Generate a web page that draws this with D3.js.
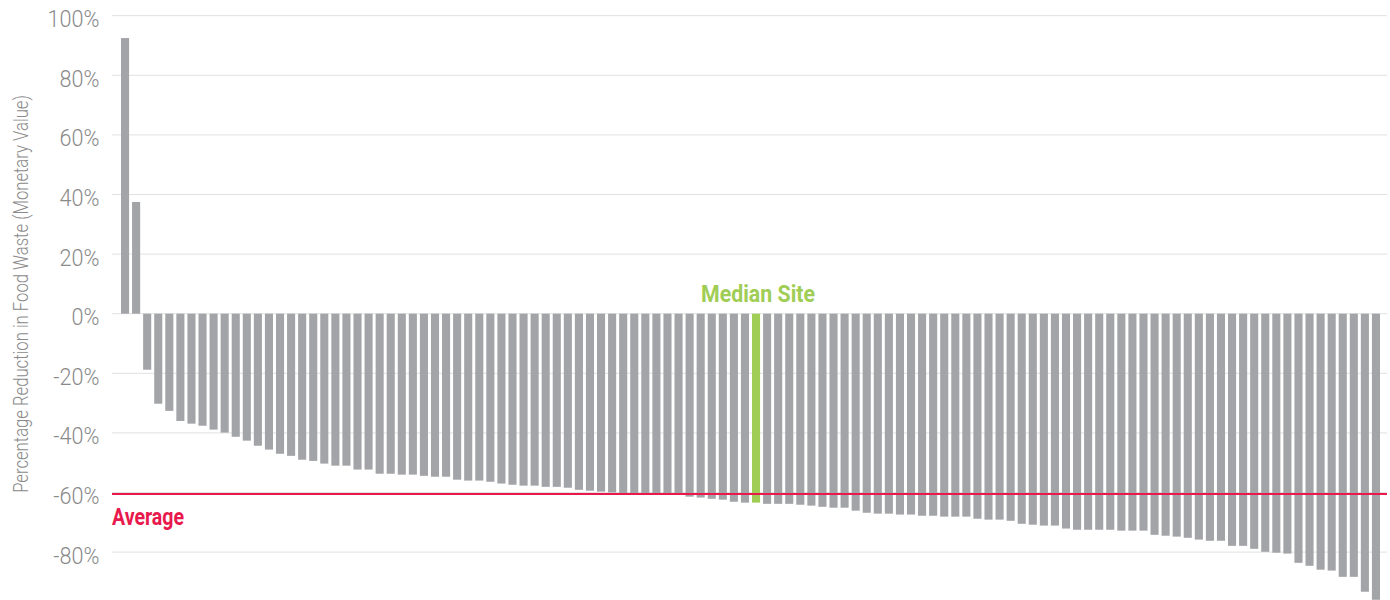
<!DOCTYPE html>
<html>
<head>
<meta charset="utf-8">
<script src="https://cdn.jsdelivr.net/npm/d3@7"></script>
<style>
  html, body { margin: 0; padding: 0; background: #fff; }
  svg { display: block; }
</style>
</head>
<body>
<svg id="chart" width="1390" height="600"></svg>
<script>
// ---- Data ----
const sites = d3.range(114).map(i => "Site " + (i + 1));
const reductions = [
  92.5, 37.5, -18.8, -30.2, -32.6, -36.0, -36.9, -37.6, -38.9, -39.9,
  -41.3, -42.6, -44.3, -45.6, -47.0, -47.7, -49.0, -49.4, -50.3, -51.0,
  -51.0, -52.3, -52.3, -53.7, -53.7, -54.0, -54.0, -54.4, -54.7, -54.7,
  -55.7, -56.0, -56.0, -56.4, -57.0, -57.4, -57.7, -57.7, -58.1, -58.1,
  -58.4, -59.1, -59.4, -59.7, -60.0, -60.2, -60.3, -60.4, -60.5, -60.6,
  -60.7, -61.4, -61.7, -62.1, -62.4, -63.1, -63.4, -63.4, -63.8, -63.8,
  -63.8, -64.1, -64.4, -64.8, -65.1, -65.1, -66.1, -66.8, -67.1, -67.1,
  -67.4, -67.4, -67.8, -67.8, -68.1, -68.1, -68.1, -68.8, -69.1, -69.1,
  -69.5, -70.5, -70.8, -71.1, -71.1, -72.1, -72.5, -72.5, -72.5, -72.5,
  -72.8, -72.8, -72.8, -74.2, -74.5, -74.8, -75.2, -75.8, -76.2, -76.2,
  -77.9, -77.9, -78.9, -79.9, -80.2, -80.5, -83.6, -84.6, -85.9, -86.2,
  -88.3, -88.3, -93.3, -96.0
];
const medianIndex = 57;
const averageValue = -60.5;
const tickValues = [100, 80, 60, 40, 20, 0, -20, -40, -60, -80];
const tickLabels = ["100%", "80%", "60%", "40%", "20%", "0%", "-20%", "-40%", "-60%", "-80%"];
const yTitle = "Percentage Reduction in Food Waste (Monetary Value)";
const medianLabel = "Median Site";
const averageLabel = "Average";

// ---- Styles ----
const barColor = "#a3a4a8";
const medianColor = "#9fcd55";
const avgColor = "#e8194c";
const gridColor = "#e1e1e1";
const tickColor = "#8a8a8a";

// ---- Scales ----
const svg = d3.select("#chart");
const plotLeft = 112, plotRight = 1387;

const x = d3.scaleBand()
  .domain(sites)
  .range([121, 1380])
  .paddingInner(0.27)
  .paddingOuter(0);

const y = d3.scaleLinear()
  .domain([-100, 100])
  .range([611.7, 15.7]);

// gridlines
svg.append("g")
  .selectAll("line")
  .data(tickValues)
  .join("line")
  .attr("x1", plotLeft)
  .attr("x2", plotRight)
  .attr("y1", d => y(d))
  .attr("y2", d => y(d))
  .attr("stroke", gridColor)
  .attr("stroke-width", 1);

// tick labels
svg.append("g")
  .selectAll("text")
  .data(tickValues)
  .join("text")
  .attr("transform", d => `translate(99.5,${y(d) + 11.5}) scale(0.92,1)`)
  .attr("text-anchor", "end")
  .attr("font-family", "Roboto, 'Noto Sans', sans-serif")
  .attr("font-weight", 300)
  .attr("font-size", 23.5)
  .attr("fill", tickColor)
  .text((d, i) => tickLabels[i]);

// y title (condensed to the reference length by a horizontal scale)
const titleText = svg.append("text")
  .attr("text-anchor", "middle")
  .attr("font-family", "Roboto, 'Noto Sans', sans-serif")
  .attr("font-weight", 300)
  .attr("font-size", 20.5)
  .attr("fill", tickColor)
  .text(yTitle);
const natural = titleText.node().getComputedTextLength();
const sx = Math.min(1, 398 / natural);
titleText.attr("transform", `translate(27.5,294) rotate(-90) scale(${sx},1)`);

// bars
svg.append("g")
  .selectAll("rect")
  .data(reductions)
  .join("rect")
  .attr("x", (d, i) => x(sites[i]))
  .attr("width", x.bandwidth())
  .attr("y", d => Math.min(y(d), y(0)))
  .attr("height", d => Math.abs(y(d) - y(0)))
  .attr("fill", (d, i) => i === medianIndex ? medianColor : barColor);

// average line
svg.append("line")
  .attr("x1", plotLeft)
  .attr("x2", plotRight)
  .attr("y1", y(averageValue))
  .attr("y2", y(averageValue))
  .attr("stroke", avgColor)
  .attr("stroke-width", 2);

svg.append("text")
  .attr("x", plotLeft)
  .attr("y", y(averageValue) + 31)
  .attr("font-family", "Roboto, 'Noto Sans', sans-serif")
  .attr("font-weight", 700)
  .attr("font-size", 23.5)
  .attr("fill", avgColor)
  .attr("textLength", 72)
  .attr("lengthAdjust", "spacingAndGlyphs")
  .text(averageLabel);

// median label
const mx = x(sites[medianIndex]) + x.bandwidth() / 2;
svg.append("text")
  .attr("x", mx - 57 + 2)
  .attr("y", y(0) - 12)
  .attr("font-family", "Roboto, 'Noto Sans', sans-serif")
  .attr("font-weight", 700)
  .attr("font-size", 23.5)
  .attr("fill", medianColor)
  .attr("textLength", 114)
  .attr("lengthAdjust", "spacingAndGlyphs")
  .text(medianLabel);
</script>
</body>
</html>
